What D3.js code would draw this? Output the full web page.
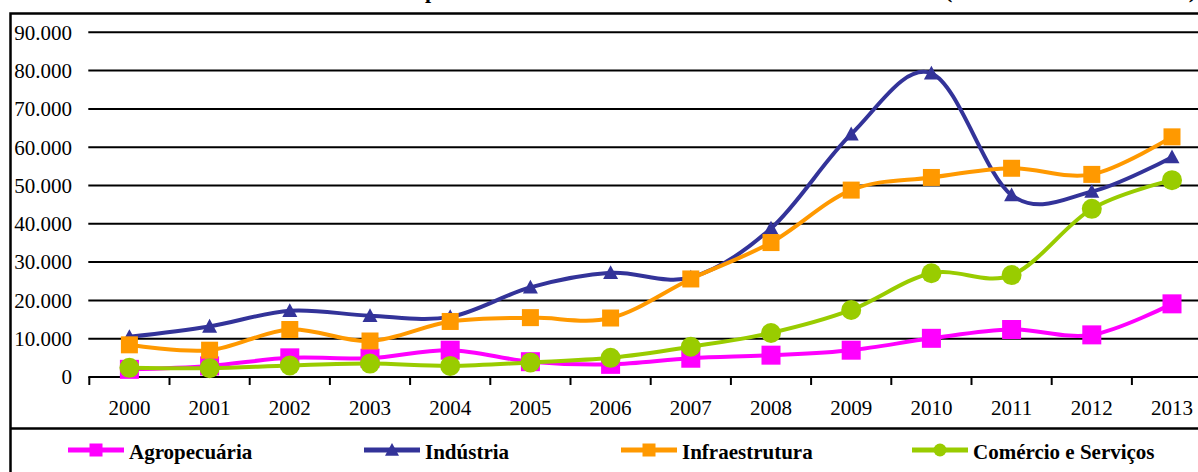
<!DOCTYPE html>
<html>
<head>
<meta charset="utf-8">
<script src="https://cdn.jsdelivr.net/npm/d3@7"></script>
<style>
  html, body { margin: 0; padding: 0; background: #fff; }
  svg { display: block; }
</style>
</head>
<body>
<svg id="chart" width="1198" height="472"></svg>
<script>
// Desembolsos por setor, R$ milhões
const years = ["2000","2001","2002","2003","2004","2005","2006","2007","2008","2009","2010","2011","2012","2013"];
const agropecuaria   = [2000, 2900, 5000, 4900, 7000, 4000, 3300, 4900, 5700, 7000, 10100, 12400, 11000, 19100];
const industria      = [10500, 13200, 17300, 16000, 15700, 23400, 27200, 26000, 38800, 63400, 79300, 47500, 48400, 57400];
const infraestrutura = [8400, 7000, 12400, 9400, 14500, 15500, 15400, 25600, 35100, 48800, 52100, 54500, 52900, 62700];
const comercio       = [2400, 2300, 3000, 3500, 2900, 3800, 5000, 7900, 11500, 17500, 27100, 26600, 43900, 51400];
const yTicks = [0, 10000, 20000, 30000, 40000, 50000, 60000, 70000, 80000, 90000];
const seriesNames = ["Agropecuária", "Indústria", "Infraestrutura", "Comércio e Serviços"];

const series = [
  { name: seriesNames[0], values: agropecuaria,   color: "#FF00FF", marker: "square", size: 19 },
  { name: seriesNames[1], values: industria,      color: "#333399", marker: "triangle", size: 15 },
  { name: seriesNames[2], values: infraestrutura, color: "#FF9900", marker: "square", size: 17 },
  { name: seriesNames[3], values: comercio,       color: "#99CC00", marker: "circle", size: 20 }
];

const SERIF = "'Liberation Serif', 'Times New Roman', 'DejaVu Serif', serif";
const svg = d3.select("#chart").attr("font-family", SERIF);
const fmt = d3.formatLocale({ decimal: ",", thousands: ".", grouping: [3], currency: ["R$", ""] }).format(",d");

const plotLeft = 89.3, band = 80.2;
const x = d3.scaleBand().domain(years).range([plotLeft, plotLeft + band * years.length]).padding(0);
const y = d3.scaleLinear().domain([0, 90000]).range([377, 32.3]);

function serifText(sel) {
  return sel.attr("font-family", SERIF).attr("fill", "#000");
}

// Title (runs above the visible frame)
const titleY = -2;
serifText(svg.append("text"))
  .attr("x", 424).attr("y", titleY).attr("text-anchor", "end")
  .attr("font-weight", "bold").attr("font-size", 22)
  .text("Desembolsos do BNDES");
serifText(svg.append("text"))
  .attr("x", 425).attr("y", titleY)
  .attr("font-weight", "bold").attr("font-size", 22)
  .text("por setor de atividade econômica – 2000 a 2013");
serifText(svg.append("text"))
  .attr("x", 945).attr("y", titleY)
  .attr("font-weight", "bold").attr("font-size", 22)
  .attr("textLength", 251).attr("lengthAdjust", "spacing")
  .text("(em R$ milhões correntes)");

// Outer frame
svg.append("rect")
  .attr("x", 10.5).attr("y", 13.5)
  .attr("width", 1250).attr("height", 520)
  .attr("fill", "none").attr("stroke", "#000").attr("stroke-width", 2.5);

// Separator between plot area and legend
svg.append("line")
  .attr("x1", 10).attr("x2", 1198)
  .attr("y1", 428.5).attr("y2", 428.5)
  .attr("stroke", "#000").attr("stroke-width", 2.5);

// Horizontal gridlines
svg.append("g").selectAll("line")
  .data(yTicks.filter(d => d > 0))
  .join("line")
  .attr("x1", plotLeft - 1).attr("x2", 1230)
  .attr("y1", d => y(d)).attr("y2", d => y(d))
  .attr("stroke", "#000").attr("stroke-width", 2);

// Y axis labels
serifText(svg.append("g").selectAll("text")
  .data(yTicks)
  .join("text"))
  .attr("x", 72)
  .attr("y", d => y(d))
  .attr("dy", "0.35em")
  .attr("text-anchor", "end")
  .attr("font-size", 21)
  .text(d => fmt(d));

// X axis line and tick marks at category boundaries
svg.append("line")
  .attr("x1", plotLeft - 1).attr("x2", 1230)
  .attr("y1", y(0)).attr("y2", y(0))
  .attr("stroke", "#000").attr("stroke-width", 2);
const boundaries = years.map(d => x(d)).concat([x(years[years.length - 1]) + x.bandwidth()]);
svg.append("g").selectAll("line")
  .data(boundaries)
  .join("line")
  .attr("x1", d => d).attr("x2", d => d)
  .attr("y1", y(0)).attr("y2", y(0) + 8)
  .attr("stroke", "#000").attr("stroke-width", 2);

// Year labels
serifText(svg.append("g").selectAll("text")
  .data(years)
  .join("text"))
  .attr("x", d => x(d) + x.bandwidth() / 2)
  .attr("y", 415)
  .attr("text-anchor", "middle")
  .attr("font-size", 21)
  .text(d => d);

// Marker drawing helper
function drawMarker(g, type, cx, cy, size, color) {
  if (type === "square") {
    g.append("rect")
      .attr("x", cx - size / 2).attr("y", cy - size / 2)
      .attr("width", size).attr("height", size)
      .attr("fill", color);
  } else if (type === "triangle") {
    const h = size * 0.92;
    g.append("path")
      .attr("d", `M${cx},${cy - h * 0.55}L${cx + size / 2},${cy + h * 0.45}L${cx - size / 2},${cy + h * 0.45}Z`)
      .attr("fill", color);
  } else {
    g.append("circle")
      .attr("cx", cx).attr("cy", cy).attr("r", size / 2)
      .attr("fill", color);
  }
}

// Smoothed series lines with markers
const line = d3.line()
  .x((d, i) => x(years[i]) + x.bandwidth() / 2)
  .y(d => y(d))
  .curve(d3.curveCardinal.tension(0));

series.forEach(s => {
  const g = svg.append("g");
  g.append("path")
    .datum(s.values)
    .attr("d", line)
    .attr("fill", "none")
    .attr("stroke", s.color)
    .attr("stroke-width", 4)
    .attr("stroke-linejoin", "round");
  s.values.forEach((v, i) => {
    drawMarker(g, s.marker, x(years[i]) + x.bandwidth() / 2, y(v), s.size, s.color);
  });
});

// Legend
const legendX = [68, 364, 621, 912];
const legendY = 450;
series.forEach((s, i) => {
  const g = svg.append("g");
  const x0 = legendX[i];
  g.append("line")
    .attr("x1", x0).attr("x2", x0 + 56)
    .attr("y1", legendY).attr("y2", legendY)
    .attr("stroke", s.color).attr("stroke-width", 5);
  drawMarker(g, s.marker, x0 + 28, legendY, s.marker === "triangle" ? 14 : 13, s.color);
  serifText(g.append("text"))
    .attr("x", x0 + 61)
    .attr("y", legendY + 8.5)
    .attr("font-weight", "bold")
    .attr("font-size", 21)
    .text(s.name);
});
</script>
</body>
</html>
